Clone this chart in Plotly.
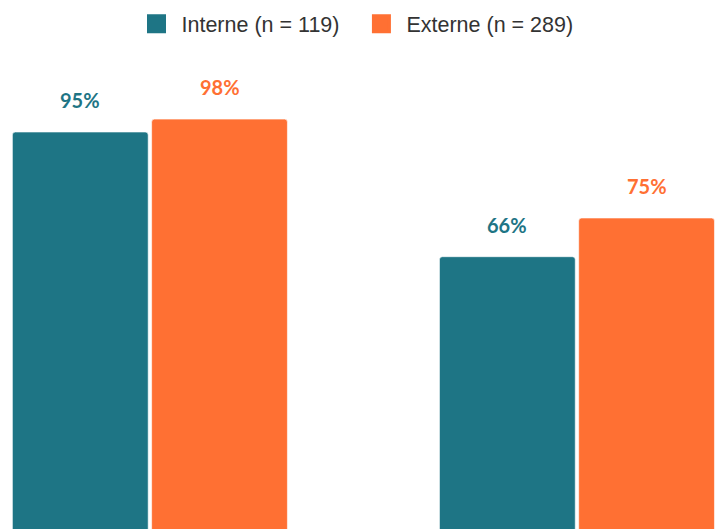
import plotly.graph_objects as go

categories = [0, 1]
series_names = ["Interne (n = 119)", "Externe (n = 289)"]
interne = [95, 66]
externe = [98, 75]
labels_interne = ["95%", "66%"]
labels_externe = ["98%", "75%"]

TEAL = "#1E7585"
ORANGE = "#FF7033"

fig = go.Figure()
specs = [
    (series_names[0], interne, labels_interne, TEAL, -0.322),
    (series_names[1], externe, labels_externe, ORANGE, 0.004),
]
BAR_W = 0.318
for name, vals, labs, col, off in specs:
    fig.add_trace(go.Bar(
        x=categories, y=vals, width=BAR_W, offset=off,
        marker=dict(color=col, line=dict(color="rgba(255,255,255,0.6)", width=1)),
        showlegend=False, hoverinfo="skip",
    ))
    # legend proxy
    fig.add_trace(go.Scatter(
        x=[None], y=[None], mode="markers", name=name + "  ",
        marker=dict(symbol="square", size=16, color=col, line=dict(color=col, width=3)),
    ))
    for xi, v, t in zip(categories, vals, labs):
        fig.add_annotation(
            x=xi + off + BAR_W / 2, y=v, text=f"<b>{t}</b>",
            showarrow=False, yanchor="middle", yshift=32,
            font=dict(family="Lato", size=20, color=col),
        )

fig.update_layout(
    width=722, height=529,
    margin=dict(l=0, r=0, t=50, b=0),
    paper_bgcolor="white", plot_bgcolor="white",
    barmode="overlay",
    barcornerradius=3,
    showlegend=True,
    legend=dict(
        orientation="h", x=0.5, xanchor="center",
        yref="container", y=0.955, yanchor="middle",
        font=dict(family="Liberation Sans", size=21.5, color="#333333"),
        itemsizing="trace", itemwidth=40,
    ),
    xaxis=dict(range=[-0.351, 1.3396], visible=False, fixedrange=True),
    yaxis=dict(range=[2.67, 114.07], visible=False, fixedrange=True),
)

fig.write_html("out.html")
